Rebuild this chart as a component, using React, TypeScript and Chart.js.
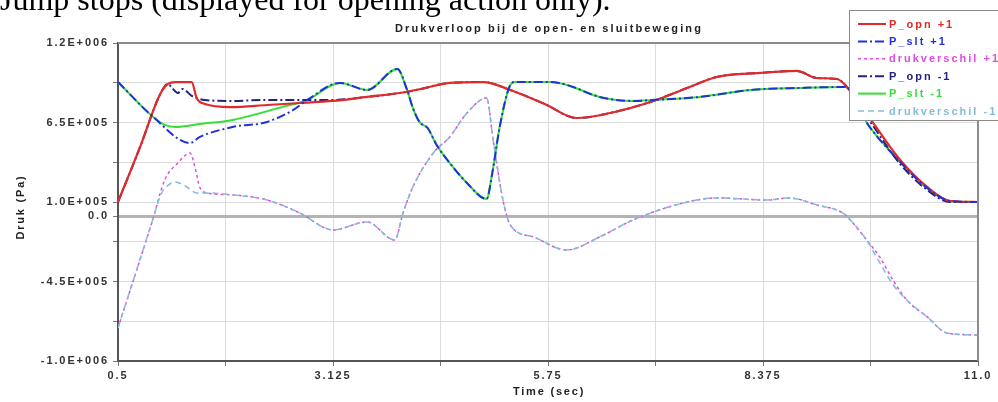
import React, { useEffect, useRef } from 'react';
import { Chart, registerables } from 'chart.js';
Chart.register(...registerables);

const FONT = '"Liberation Sans", Arial, Helvetica, sans-serif';

const chartTitle = 'Drukverloop bij de open- en sluitbeweging';
const xTitle = 'Time (sec)';
const yTitle = 'Druk (Pa)';

const xTicks = [0.5, 1.8125, 3.125, 4.4375, 5.75, 7.0625, 8.375, 9.6875, 11.0];
const xTickLabels = ['0.5', '', '3.125', '', '5.75', '', '8.375', '', '11.0'];
const yTicks = [-1000000, -725000, -450000, -175000, 0, 100000, 375000, 650000, 925000, 1200000];
const yTickLabels = ['-1.0E+006', '', '-4.5E+005', '', '0.0', '1.0E+005', '', '6.5E+005', '', '1.2E+006'];

// P_opn +1
const opnPosT = [0.5, 0.77, 1.01, 1.11, 1.2, 1.4, 1.46, 1.56, 1.87, 2.32, 2.72, 3.125, 3.54, 3.94, 4.2, 4.55, 4.96, 5.29, 5.71, 6.1, 6.51, 7.0, 7.48, 7.81, 8.34, 8.79, 9.03, 9.28, 9.41, 9.72, 10.05, 10.38, 10.66, 11.0];
const opnPosV = [100000, 481000, 841000, 917000, 930000, 930000, 820000, 778000, 757000, 771000, 785000, 799000, 827000, 854000, 882000, 924000, 930000, 875000, 778000, 681000, 716000, 792000, 896000, 965000, 993000, 1007000, 958000, 951000, 889000, 647000, 391000, 204000, 107000, 100000];

// P_slt +1
const sltPosT = [0.5, 0.93, 1.38, 1.5, 1.9, 2.32, 2.64, 2.81, 3.21, 3.54, 3.91, 4.03, 4.1, 4.18, 4.28, 4.39, 4.55, 4.76, 5.0, 5.07, 5.16, 5.29, 5.35, 5.77, 5.98, 6.38, 6.79, 7.03, 7.61, 8.22, 8.83, 9.38, 9.66, 10.05, 10.38, 10.66, 11.0];
const sltPosV = [930000, 688000, 508000, 550000, 619000, 654000, 737000, 806000, 924000, 875000, 1020000, 875000, 751000, 654000, 612000, 495000, 370000, 232000, 121000, 301000, 619000, 910000, 930000, 930000, 910000, 827000, 799000, 806000, 827000, 875000, 889000, 896000, 633000, 377000, 197000, 107000, 100000];

// drukverschil +1
const dvPosT = [0.5, 0.92, 1.07, 1.23, 1.38, 1.44, 1.5, 1.59, 1.9, 2.32, 2.72, 3.125, 3.54, 3.88, 3.98, 4.1, 4.35, 4.55, 4.76, 5.0, 5.08, 5.2, 5.29, 5.57, 5.98, 6.38, 6.79, 7.4, 7.81, 8.42, 8.7, 9.03, 9.35, 9.44, 9.64, 9.8, 9.96, 10.13, 10.38, 10.62, 11.0];
const dvPosV = [-771000, -30000, 252000, 370000, 439000, 340000, 200000, 163000, 149000, 114000, 24000, -93000, -38000, -163000, 24000, 204000, 439000, 550000, 716000, 820000, 529000, 114000, -59000, -142000, -232000, -142000, -24000, 93000, 128000, 114000, 128000, 80000, 24000, -24000, -163000, -280000, -439000, -578000, -695000, -806000, -820000];

// P_opn -1
const opnNegT = [0.5, 0.77, 1.01, 1.11, 1.16, 1.23, 1.29, 1.4, 1.56, 1.87, 2.32, 2.72, 3.125, 3.54, 3.94, 4.2, 4.55, 4.96, 5.29, 5.71, 6.1, 6.51, 7.0, 7.48, 7.81, 8.34, 8.79, 9.03, 9.28, 9.41, 9.72, 10.05, 10.38, 10.66, 11.0];
const opnNegV = [100000, 481000, 841000, 917000, 889000, 854000, 882000, 834000, 806000, 799000, 806000, 806000, 806000, 827000, 854000, 882000, 924000, 930000, 875000, 778000, 681000, 716000, 792000, 896000, 965000, 993000, 1007000, 958000, 951000, 889000, 626000, 363000, 183000, 100000, 100000];

// P_slt -1
const sltNegT = [0.5, 0.93, 1.07, 1.2, 1.5, 1.9, 2.51, 2.81, 3.21, 3.54, 3.91, 4.03, 4.1, 4.18, 4.28, 4.39, 4.55, 4.76, 5.0, 5.07, 5.16, 5.29, 5.35, 5.77, 5.98, 6.38, 6.79, 7.03, 7.61, 8.22, 8.83, 9.38, 9.66, 10.05, 10.38, 10.66, 11.0];
const sltNegV = [930000, 688000, 633000, 619000, 640000, 668000, 758000, 806000, 924000, 875000, 1020000, 875000, 751000, 654000, 612000, 495000, 370000, 232000, 121000, 301000, 619000, 910000, 930000, 930000, 910000, 827000, 799000, 806000, 827000, 875000, 889000, 896000, 633000, 377000, 197000, 107000, 100000];

// drukverschil -1
const dvNegT = [0.5, 0.92, 1.03, 1.11, 1.2, 1.34, 1.46, 1.59, 1.9, 2.32, 2.72, 3.125, 3.54, 3.88, 3.98, 4.1, 4.35, 4.55, 4.76, 5.0, 5.08, 5.2, 5.29, 5.57, 5.98, 6.38, 6.79, 7.4, 7.81, 8.42, 8.7, 9.03, 9.35, 9.44, 9.64, 9.8, 9.96, 10.13, 10.38, 10.62, 11.0];
const dvNegV = [-771000, -30000, 160000, 215000, 238000, 204000, 163000, 163000, 149000, 114000, 24000, -93000, -38000, -163000, 24000, 204000, 439000, 550000, 716000, 820000, 529000, 114000, -59000, -142000, -232000, -142000, -24000, 93000, 128000, 114000, 128000, 80000, 24000, -24000, -163000, -320000, -470000, -578000, -695000, -806000, -820000];

const RED = '#e12a2a';
const BLUE = '#2230dc';
const MAGENTA = '#e04ce0';
const NAVY = '#23237f';
const GREEN = '#33e033';
const LIGHTBLUE = '#86bcd8';

const DASHDOT = [9, 3, 2, 3];

const legendItems = [
  { label: 'P_opn +1', color: RED, dash: [], width: 2 },
  { label: 'P_slt +1', color: BLUE, dash: DASHDOT, width: 2 },
  { label: 'drukverschil +1', color: MAGENTA, dash: [3, 3], width: 1.5 },
  { label: 'P_opn -1', color: NAVY, dash: DASHDOT, width: 2 },
  { label: 'P_slt -1', color: GREEN, dash: [], width: 2 },
  { label: 'drukverschil -1', color: LIGHTBLUE, dash: [6, 4], width: 1.5 },
];

const pts = (t: number[], v: number[]) => t.map((x, i) => ({ x, y: v[i] }));

const decorPlugin = {
  id: 'decor',
  beforeDraw(chart: any) {
    chart.ctx.letterSpacing = '1.9px';
  },
  afterDraw(chart: any) {
    const { ctx, chartArea } = chart;
    const { left, right, top, bottom } = chartArea;
    ctx.save();
    ctx.setLineDash([]);
    ctx.strokeStyle = '#8c8c8c';
    ctx.lineWidth = 2;
    ctx.beginPath();
    ctx.moveTo(left, top);
    ctx.lineTo(right, top);
    ctx.lineTo(right, bottom);
    ctx.stroke();

    ctx.letterSpacing = '2.1px';
    ctx.font = `bold 11px ${FONT}`;
    ctx.fillStyle = '#222';
    ctx.textAlign = 'center';
    ctx.textBaseline = 'middle';
    ctx.fillText(chartTitle, (left + right) / 2 + 1, 29);
    ctx.letterSpacing = '1.8px';
    ctx.fillText(xTitle, (left + right) / 2 + 1, 392);
    ctx.save();
    ctx.translate(21, 207);
    ctx.rotate(-Math.PI / 2);
    ctx.fillText(yTitle, 0, 0);
    ctx.restore();

    // legend
    const bx = 849.5, by = 10.5, bw = 160, bh = 110;
    ctx.fillStyle = '#ffffff';
    ctx.fillRect(bx, by, bw, bh);
    ctx.strokeStyle = '#8a8a8a';
    ctx.lineWidth = 1;
    ctx.strokeRect(bx, by, bw, bh);
    ctx.letterSpacing = '2px';
    ctx.textAlign = 'left';
    legendItems.forEach((it, i) => {
      const y = 24 + i * 17.4;
      ctx.strokeStyle = it.color;
      ctx.lineWidth = it.width;
      ctx.setLineDash(it.dash);
      ctx.beginPath();
      ctx.moveTo(858, y);
      ctx.lineTo(886, y);
      ctx.stroke();
      ctx.setLineDash([]);
      ctx.fillStyle = it.color;
      ctx.fillText(it.label, 889, y + 0.5);
    });
    ctx.restore();
  },
};

export default function App() {
  const ref = useRef<HTMLCanvasElement | null>(null);
  useEffect(() => {
    if (!ref.current) return;
    const common = { pointRadius: 0, fill: false, cubicInterpolationMode: 'monotone' as const };
    const chart = new Chart(ref.current, {
      type: 'line',
      data: {
        datasets: [
          { ...common, label: 'P_slt +1', data: pts(sltPosT, sltPosV), borderColor: BLUE, borderDash: DASHDOT, borderWidth: 2 },
          { ...common, label: 'P_opn +1', data: pts(opnPosT, opnPosV), borderColor: RED, borderWidth: 2.2 },
          { ...common, label: 'P_opn -1', data: pts(opnNegT, opnNegV), borderColor: NAVY, borderDash: DASHDOT, borderWidth: 2 },
          { ...common, label: 'drukverschil -1', data: pts(dvNegT, dvNegV), borderColor: LIGHTBLUE, borderDash: [6, 4], borderWidth: 1.5 },
          { ...common, label: 'drukverschil +1', data: pts(dvPosT, dvPosV), borderColor: MAGENTA, borderDash: [3, 3], borderWidth: 1.5 },
          { ...common, label: 'P_slt -1', data: pts(sltNegT, sltNegV), borderColor: GREEN, borderWidth: 2 },
        ] as any,
      },
      options: {
        responsive: false,
        animation: false,
        layout: { padding: { top: 43, right: 20, left: 0, bottom: 0 } },
        plugins: { legend: { display: false }, tooltip: { enabled: false }, title: { display: false } },
        scales: {
          x: {
            type: 'linear',
            min: 0.5,
            max: 11,
            afterBuildTicks: (s: any) => { s.ticks = xTicks.map((v) => ({ value: v })); },
            afterFit: (s: any) => { s.height = 41; },
            ticks: {
              autoSkip: false,
              maxRotation: 0,
              padding: 3,
              color: '#333',
              font: { family: FONT, size: 11, weight: 'bold' },
              callback: (value: any) => {
                const i = xTicks.findIndex((t) => Math.abs(t - Number(value)) < 1e-6);
                return i >= 0 ? xTickLabels[i] : '';
              },
            },
            grid: { color: '#dcdcdc', lineWidth: 1, tickLength: 5, tickColor: '#777', tickWidth: 1 },
            border: { display: true, color: '#555', width: 2 },
          },
          y: {
            type: 'linear',
            min: -1000000,
            max: 1200000,
            afterBuildTicks: (s: any) => { s.ticks = yTicks.map((v) => ({ value: v })); },
            afterFit: (s: any) => { s.width = 118; },
            ticks: {
              autoSkip: false,
              padding: 4,
              color: '#333',
              font: { family: FONT, size: 11, weight: 'bold' },
              callback: (value: any) => {
                const i = yTicks.findIndex((t) => Math.abs(t - Number(value)) < 1);
                return i >= 0 ? yTickLabels[i] : '';
              },
            },
            grid: {
              color: (c: any) => (c.tick && c.tick.value === 0 ? '#b4b4b4' : '#dcdcdc'),
              lineWidth: (c: any) => (c.tick && c.tick.value === 0 ? 3 : 1),
              tickLength: 5,
              tickColor: '#777',
              tickWidth: 1,
            },
            border: { display: true, color: '#555', width: 2 },
          },
        },
      } as any,
      plugins: [decorPlugin],
    });
    return () => chart.destroy();
  }, []);

  return (
    <div style={{ position: 'absolute', left: 0, top: 0, width: 998, height: 402, overflow: 'hidden', background: '#fff' }}>
      <canvas ref={ref} width={998} height={402} style={{ position: 'absolute', left: 0, top: 0, width: 998, height: 402 }} />
      <div
        style={{
          position: 'absolute',
          left: 0,
          top: -17,
          font: '32px "Liberation Serif", "Times New Roman", serif',
          lineHeight: '32px',
          whiteSpace: 'nowrap',
          color: '#000',
        }}
      >
        Jump stops (displayed for opening action only).
      </div>
    </div>
  );
}
